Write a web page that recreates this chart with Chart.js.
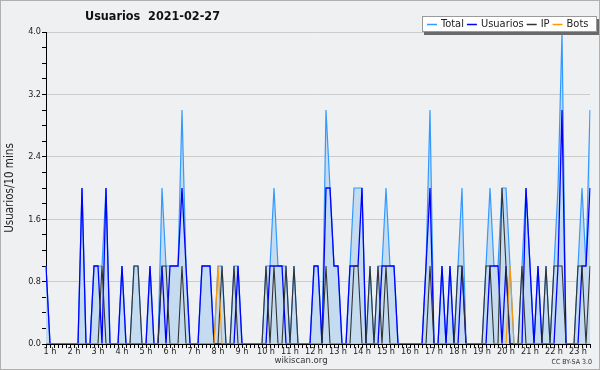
<!DOCTYPE html>
<html>
<head>
<meta charset="utf-8">
<script src="https://cdn.jsdelivr.net/npm/chart.js@4/dist/chart.umd.min.js"></script>
<style>
    body { margin: 0; background: #eff0f1; }
    canvas { display: block; }
</style>
</head>
<body>
<canvas id="usersChart" width="600" height="370"></canvas>
<script>
// 10 minute slots, first slot 00:50, last 23:50
var hourTicks = ['1 h', '2 h', '3 h', '4 h', '5 h', '6 h', '7 h', '8 h', '9 h', '10 h', '11 h', '12 h',
    '13 h', '14 h', '15 h', '16 h', '17 h', '18 h', '19 h', '20 h', '21 h', '22 h', '23 h'];
var yTicks = [0, 0.8, 1.6, 2.4, 3.2, 4.0];

var total = [
    1,0,0,0,0,0,0,0,0,2,
    0,0,1,1,1,2,0,0,0,1,
    0,0,1,1,0,0,1,0,0,2,
    1,1,1,1,3,1,0,0,0,1,
    1,1,0,1,1,0,0,1,1,0,
    0,0,0,0,0,1,1,2,1,1,
    1,0,1,0,0,0,0,1,1,0,
    3,2,1,1,0,0,1,2,2,2,
    0,1,0,1,1,2,1,1,0,0,
    0,0,0,0,0,1,3,0,0,1,
    0,1,0,1,2,0,0,0,0,0,
    1,2,1,1,2,2,1,0,0,1,
    2,1,0,1,0,1,0,1,2,4,
    0,0,0,1,2,1,3];
var usuarios = [
    1,0,0,0,0,0,0,0,0,2,
    0,0,1,1,0,2,0,0,0,1,
    0,0,0,0,0,0,1,0,0,1,
    0,1,1,1,2,1,0,0,0,1,
    1,1,0,0,0,0,0,0,1,0,
    0,0,0,0,0,0,1,1,1,1,
    0,0,0,0,0,0,0,1,1,0,
    2,2,1,1,0,0,1,1,1,2,
    0,0,0,0,1,1,1,1,0,0,
    0,0,0,0,0,1,2,0,0,1,
    0,1,0,0,1,0,0,0,0,0,
    0,1,1,1,0,1,0,0,0,0,
    2,1,0,1,0,0,0,0,1,3,
    0,0,0,0,1,1,2];
var ip = [
    0,0,0,0,0,0,0,0,0,0,
    0,0,0,0,1,0,0,0,0,0,
    0,0,1,1,0,0,0,0,0,1,
    1,0,0,0,1,0,0,0,0,0,
    0,0,0,0,1,0,0,1,0,0,
    0,0,0,0,0,1,0,1,0,0,
    1,0,1,0,0,0,0,0,0,0,
    1,0,0,0,0,0,0,1,1,0,
    0,1,0,1,0,1,0,0,0,0,
    0,0,0,0,0,0,1,0,0,0,
    0,0,0,1,1,0,0,0,0,0,
    1,1,0,0,2,1,0,0,0,1,
    0,0,0,0,0,1,0,1,1,1,
    0,0,0,1,1,0,1];
var bots = [
    0,0,0,0,0,0,0,0,0,0,
    0,0,0,0,0,0,0,0,0,0,
    0,0,0,0,0,0,0,0,0,0,
    0,0,0,0,0,0,0,0,0,0,
    0,0,0,1,0,0,0,0,0,0,
    0,0,0,0,0,0,0,0,0,0,
    0,0,0,0,0,0,0,0,0,0,
    0,0,0,0,0,0,0,0,0,0,
    0,0,0,0,0,0,0,0,0,0,
    0,0,0,0,0,0,0,0,0,0,
    0,0,0,0,0,0,0,0,0,0,
    0,0,0,0,0,0,1,0,0,0,
    0,0,0,0,0,0,0,0,0,0,
    0,0,0,0,0,0,0];

var slots = [];
for (var i = 0; i < total.length; i++) {
    var m = 50 + i * 10;
    slots.push(Math.floor(m / 60) + ':' + ('0' + (m % 60)).slice(-2));
}

var FONT = '"DejaVu Sans Condensed", "DejaVu Sans", sans-serif';

function isMajor(v) {
    return yTicks.some(function (t) { return Math.abs(t - v) < 1e-6; });
}

var decor = {
    id: 'decor',
    beforeDraw: function (chart) {
        var ctx = chart.ctx;
        ctx.save();
        ctx.fillStyle = '#eff0f1';
        ctx.fillRect(0, 0, chart.width, chart.height);
        ctx.strokeStyle = '#b0b0b0';
        ctx.lineWidth = 1;
        ctx.strokeRect(0.5, 0.5, chart.width - 1, chart.height - 1);
        ctx.restore();
    },
    afterDraw: function (chart) {
        var ctx = chart.ctx;
        ctx.save();
        // title
        ctx.fillStyle = '#111';
        ctx.font = 'bold 12.5px ' + FONT;
        ctx.textBaseline = 'middle';
        ctx.fillText('Usuarios  2021-02-27', 85, 17);

        // legend box
        var bx = 422, by = 16, bw = 175, bh = 16;
        ctx.fillStyle = '#6a6a6a';
        ctx.fillRect(bx + 2, by + 3, bw, bh);
        ctx.fillStyle = '#ffffff';
        ctx.fillRect(bx, by, bw, bh);
        ctx.strokeStyle = '#9a9a9a';
        ctx.lineWidth = 1;
        ctx.strokeRect(bx + 0.5, by + 0.5, bw - 1, bh - 1);
        ctx.font = '11px ' + FONT;
        var x = bx + 5, y = by + 8.5;
        chart.data.datasets.forEach(function (ds) {
            ctx.strokeStyle = ds.borderColor;
            ctx.lineWidth = 1.5;
            ctx.beginPath();
            ctx.moveTo(x, y);
            ctx.lineTo(x + 10, y);
            ctx.stroke();
            x += 14;
            ctx.fillStyle = '#222';
            ctx.fillText(ds.label, x, y);
            x += ctx.measureText(ds.label).width + 3;
        });

        // footer
        ctx.fillStyle = '#333';
        ctx.font = '9.5px ' + FONT;
        ctx.textAlign = 'center';
        ctx.fillText('wikiscan.org', 301, 361);
        ctx.font = '7px ' + FONT;
        ctx.textAlign = 'right';
        ctx.fillText('CC BY-SA 3.0', 592, 362);
        ctx.restore();
    }
};

var ctx = document.getElementById('usersChart').getContext('2d');
var usersChart = new Chart(ctx, {
    type: 'line',
    data: {
        labels: slots,
        datasets: [{
            label: 'Total',
            data: total,
            borderColor: '#3399ff',
            backgroundColor: '#c5dcf0',
            fill: 'origin',
            borderWidth: 1.2,
            order: 4
        }, {
            label: 'Usuarios',
            data: usuarios,
            borderColor: '#0000ff',
            borderWidth: 1.3,
            fill: false,
            order: 3
        }, {
            label: 'IP',
            data: ip,
            borderColor: '#333333',
            borderWidth: 1.1,
            fill: false,
            order: 2
        }, {
            label: 'Bots',
            data: bots,
            borderColor: '#ff9900',
            borderWidth: 1.1,
            fill: false,
            order: 1
        }]
    },
    options: {
        responsive: false,
        animation: false,
        devicePixelRatio: 1,
        layout: { padding: { top: 32, right: 10, left: 0, bottom: 0 } },
        elements: {
            point: { radius: 0 },
            line: { tension: 0 }
        },
        plugins: {
            legend: { display: false },
            title: { display: false },
            tooltip: { enabled: false }
        },
        scales: {
            x: {
                offset: false,
                grid: { drawOnChartArea: false, tickLength: 4, tickColor: '#000' },
                border: { color: '#000' },
                ticks: {
                    autoSkip: false,
                    maxRotation: 0,
                    minRotation: 0,
                    padding: -2,
                    color: '#222',
                    font: { family: FONT, size: 9 },
                    callback: function (value, index) {
                        var h = (index + 5) / 6;
                        if (h === Math.floor(h) && h >= 1 && h <= hourTicks.length) {
                            return hourTicks[h - 1];
                        }
                        return '';
                    }
                },
                afterFit: function (scale) { scale.height = 26; }
            },
            y: {
                min: 0,
                max: 4,
                grid: {
                    color: function (c) { return isMajor(c.tick.value) ? '#cccccc' : 'rgba(0,0,0,0)'; },
                    tickColor: '#000',
                    tickLength: 4
                },
                border: { color: '#000' },
                ticks: {
                    stepSize: 0.2,
                    padding: 1,
                    color: '#222',
                    font: { family: FONT, size: 9 },
                    callback: function (v) { return isMajor(v) ? v.toFixed(1) : ''; }
                },
                title: {
                    display: true,
                    text: 'Usuarios/10 mins',
                    color: '#222',
                    padding: { top: 3, bottom: 0 },
                    font: { family: FONT, size: 11.5 }
                },
                afterFit: function (scale) { scale.width = 46; }
            }
        }
    },
    plugins: [decor]
});
</script>
</body>
</html>
